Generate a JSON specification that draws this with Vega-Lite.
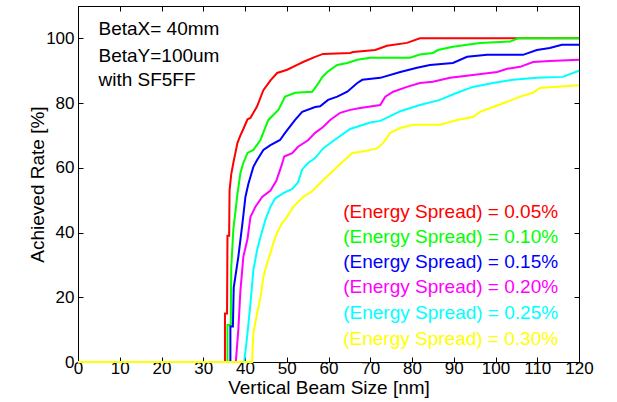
{
  "$schema": "https://vega.github.io/schema/vega-lite/v6.json",
  "width": 501,
  "height": 356,
  "autosize": {"type": "none"},
  "padding": {"left": 78, "top": 6, "right": 38, "bottom": 40},
  "config": {
    "view": {"stroke": "black", "strokeWidth": 1},
    "font": "Liberation Sans",
    "axis": {"domainColor": "black", "tickColor": "black", "labelColor": "black", "titleColor": "black", "grid": false, "labelFont": "Liberation Sans", "titleFont": "Liberation Sans", "labelFontWeight": "normal", "titleFontWeight": "normal", "labelOverlap": false, "labelFlush": false}
  },
  "datasets": {
    "curves": [
      {"s":"0.05%","x":0,"y":0},{"s":"0.05%","x":35.2,"y":0},{"s":"0.05%","x":35.2,"y":15},{"s":"0.05%","x":35.7,"y":15},{"s":"0.05%","x":35.8,"y":39},{"s":"0.05%","x":36.2,"y":39},{"s":"0.05%","x":36.3,"y":53},{"s":"0.05%","x":36.7,"y":58},{"s":"0.05%","x":37.2,"y":61.5},{"s":"0.05%","x":38.2,"y":67.7},{"s":"0.05%","x":38.9,"y":70},{"s":"0.05%","x":39.6,"y":72},{"s":"0.05%","x":40.6,"y":75},{"s":"0.05%","x":41.3,"y":75.4},{"s":"0.05%","x":42.9,"y":79},{"s":"0.05%","x":44.4,"y":84},{"s":"0.05%","x":46.1,"y":87},{"s":"0.05%","x":47.7,"y":89.3},{"s":"0.05%","x":50.1,"y":90.3},{"s":"0.05%","x":52.5,"y":91.8},{"s":"0.05%","x":53.9,"y":92.7},{"s":"0.05%","x":56.8,"y":94.3},{"s":"0.05%","x":58.7,"y":95.2},{"s":"0.05%","x":65.2,"y":95.5},{"s":"0.05%","x":65.9,"y":95.8},{"s":"0.05%","x":71.2,"y":96.4},{"s":"0.05%","x":74.0,"y":97.7},{"s":"0.05%","x":78.8,"y":98.6},{"s":"0.05%","x":81.9,"y":100},{"s":"0.05%","x":120,"y":100},
      {"s":"0.10%","x":0,"y":0},{"s":"0.10%","x":35.8,"y":0},{"s":"0.10%","x":35.8,"y":11.4},{"s":"0.10%","x":36.6,"y":11.4},{"s":"0.10%","x":36.7,"y":29},{"s":"0.10%","x":37.2,"y":40.8},{"s":"0.10%","x":38.2,"y":52},{"s":"0.10%","x":38.9,"y":58.4},{"s":"0.10%","x":39.6,"y":61.5},{"s":"0.10%","x":40.6,"y":64.6},{"s":"0.10%","x":42.0,"y":65.5},{"s":"0.10%","x":43.7,"y":68.6},{"s":"0.10%","x":44.9,"y":72.6},{"s":"0.10%","x":45.6,"y":74.8},{"s":"0.10%","x":48.0,"y":77.9},{"s":"0.10%","x":49.6,"y":82},{"s":"0.10%","x":52.0,"y":83.2},{"s":"0.10%","x":56.1,"y":83.5},{"s":"0.10%","x":57.3,"y":85.6},{"s":"0.10%","x":58.5,"y":88},{"s":"0.10%","x":59.7,"y":89.6},{"s":"0.10%","x":62.1,"y":91.8},{"s":"0.10%","x":64.5,"y":92.4},{"s":"0.10%","x":66.9,"y":93.4},{"s":"0.10%","x":70.0,"y":94},{"s":"0.10%","x":79.5,"y":94},{"s":"0.10%","x":81.9,"y":95},{"s":"0.10%","x":85.0,"y":95.5},{"s":"0.10%","x":86.2,"y":96.4},{"s":"0.10%","x":89.8,"y":97.4},{"s":"0.10%","x":93.2,"y":98},{"s":"0.10%","x":96.3,"y":98.6},{"s":"0.10%","x":103.5,"y":99},{"s":"0.10%","x":105.4,"y":100},{"s":"0.10%","x":120,"y":100},
      {"s":"0.15%","x":0,"y":0},{"s":"0.15%","x":36.5,"y":0},{"s":"0.15%","x":36.5,"y":11},{"s":"0.15%","x":37.1,"y":11},{"s":"0.15%","x":37.3,"y":23},{"s":"0.15%","x":38.4,"y":32.5},{"s":"0.15%","x":39.4,"y":43},{"s":"0.15%","x":40.1,"y":51},{"s":"0.15%","x":40.8,"y":55},{"s":"0.15%","x":42.0,"y":60.3},{"s":"0.15%","x":42.9,"y":62.4},{"s":"0.15%","x":44.4,"y":65.5},{"s":"0.15%","x":46.1,"y":67},{"s":"0.15%","x":48.4,"y":68.6},{"s":"0.15%","x":49.6,"y":70.8},{"s":"0.15%","x":52.0,"y":74.8},{"s":"0.15%","x":53.7,"y":77.3},{"s":"0.15%","x":56.8,"y":78.8},{"s":"0.15%","x":58.0,"y":79},{"s":"0.15%","x":59.9,"y":81},{"s":"0.15%","x":62.1,"y":82},{"s":"0.15%","x":64.5,"y":83.5},{"s":"0.15%","x":66.9,"y":86.2},{"s":"0.15%","x":68.1,"y":87.2},{"s":"0.15%","x":72.4,"y":87.8},{"s":"0.15%","x":77.2,"y":89.6},{"s":"0.15%","x":81.2,"y":90.9},{"s":"0.15%","x":84.3,"y":91.8},{"s":"0.15%","x":89.8,"y":92.4},{"s":"0.15%","x":93.2,"y":94.3},{"s":"0.15%","x":98.0,"y":94.9},{"s":"0.15%","x":106.6,"y":94.9},{"s":"0.15%","x":109.9,"y":96.4},{"s":"0.15%","x":113.0,"y":97},{"s":"0.15%","x":115.9,"y":98},{"s":"0.15%","x":120,"y":98},
      {"s":"0.20%","x":0,"y":0},{"s":"0.20%","x":37.8,"y":0},{"s":"0.20%","x":38.4,"y":10},{"s":"0.20%","x":38.9,"y":22},{"s":"0.20%","x":39.6,"y":32.5},{"s":"0.20%","x":40.6,"y":38},{"s":"0.20%","x":41.3,"y":44.8},{"s":"0.20%","x":42.5,"y":48},{"s":"0.20%","x":44.1,"y":51},{"s":"0.20%","x":46.1,"y":53},{"s":"0.20%","x":47.5,"y":56},{"s":"0.20%","x":48.7,"y":60.5},{"s":"0.20%","x":49.4,"y":63.5},{"s":"0.20%","x":51.3,"y":64.5},{"s":"0.20%","x":52.7,"y":66.5},{"s":"0.20%","x":55.1,"y":68.5},{"s":"0.20%","x":56.8,"y":70.8},{"s":"0.20%","x":58.7,"y":72.6},{"s":"0.20%","x":60.4,"y":74.8},{"s":"0.20%","x":62.8,"y":77},{"s":"0.20%","x":65.2,"y":77.9},{"s":"0.20%","x":67.6,"y":78.5},{"s":"0.20%","x":72.4,"y":79.4},{"s":"0.20%","x":73.6,"y":82},{"s":"0.20%","x":75.5,"y":83.5},{"s":"0.20%","x":78.8,"y":85},{"s":"0.20%","x":81.9,"y":86.2},{"s":"0.20%","x":85.0,"y":86.6},{"s":"0.20%","x":89.1,"y":87.8},{"s":"0.20%","x":94.6,"y":88.7},{"s":"0.20%","x":100.4,"y":89.6},{"s":"0.20%","x":102.8,"y":90.6},{"s":"0.20%","x":105.9,"y":91.2},{"s":"0.20%","x":109.0,"y":92.7},{"s":"0.20%","x":113.0,"y":93},{"s":"0.20%","x":120,"y":93.4},
      {"s":"0.25%","x":0,"y":0},{"s":"0.25%","x":39.8,"y":0},{"s":"0.25%","x":40.5,"y":7.7},{"s":"0.25%","x":41.3,"y":18},{"s":"0.25%","x":42.0,"y":28.4},{"s":"0.25%","x":42.9,"y":34.6},{"s":"0.25%","x":43.7,"y":38.6},{"s":"0.25%","x":44.9,"y":44},{"s":"0.25%","x":46.1,"y":48},{"s":"0.25%","x":47.2,"y":50.5},{"s":"0.25%","x":49.2,"y":52.2},{"s":"0.25%","x":51.3,"y":53.5},{"s":"0.25%","x":52.7,"y":55.5},{"s":"0.25%","x":53.7,"y":59.5},{"s":"0.25%","x":55.1,"y":61.5},{"s":"0.25%","x":56.8,"y":63},{"s":"0.25%","x":58.7,"y":66},{"s":"0.25%","x":62.1,"y":69.2},{"s":"0.25%","x":65.2,"y":72},{"s":"0.25%","x":70.0,"y":74},{"s":"0.25%","x":72.4,"y":74.5},{"s":"0.25%","x":74.8,"y":76},{"s":"0.25%","x":77.2,"y":77.5},{"s":"0.25%","x":81.9,"y":79.4},{"s":"0.25%","x":86.7,"y":81},{"s":"0.25%","x":90.8,"y":83.2},{"s":"0.25%","x":94.6,"y":85},{"s":"0.25%","x":99.4,"y":86.2},{"s":"0.25%","x":104.2,"y":87.2},{"s":"0.25%","x":109.9,"y":87.8},{"s":"0.25%","x":116.1,"y":88.1},{"s":"0.25%","x":120,"y":90},
      {"s":"0.30%","x":0,"y":0},{"s":"0.30%","x":41.7,"y":0},{"s":"0.30%","x":42.0,"y":9},{"s":"0.30%","x":42.9,"y":15},{"s":"0.30%","x":43.7,"y":20},{"s":"0.30%","x":44.4,"y":26.3},{"s":"0.30%","x":45.3,"y":30.6},{"s":"0.30%","x":46.1,"y":33.7},{"s":"0.30%","x":46.8,"y":36.8},{"s":"0.30%","x":47.7,"y":40},{"s":"0.30%","x":48.9,"y":43},{"s":"0.30%","x":49.6,"y":44},{"s":"0.30%","x":51.6,"y":48},{"s":"0.30%","x":53.9,"y":51},{"s":"0.30%","x":56.3,"y":53},{"s":"0.30%","x":58.0,"y":55.3},{"s":"0.30%","x":62.1,"y":60.3},{"s":"0.30%","x":65.7,"y":64.6},{"s":"0.30%","x":68.8,"y":65.2},{"s":"0.30%","x":71.6,"y":66},{"s":"0.30%","x":73.1,"y":67.7},{"s":"0.30%","x":74.8,"y":70.8},{"s":"0.30%","x":77.2,"y":72.3},{"s":"0.30%","x":80.3,"y":73.3},{"s":"0.30%","x":86.7,"y":73.3},{"s":"0.30%","x":90.8,"y":74.8},{"s":"0.30%","x":94.6,"y":75.7},{"s":"0.30%","x":96.3,"y":77.3},{"s":"0.30%","x":99.4,"y":78.8},{"s":"0.30%","x":102.8,"y":80.4},{"s":"0.30%","x":105.9,"y":82},{"s":"0.30%","x":109.0,"y":83.2},{"s":"0.30%","x":110.6,"y":84.7},{"s":"0.30%","x":113.8,"y":85},{"s":"0.30%","x":120,"y":85.5}
    ],
    "legend": [
      {"s":"0.05%","label":"(Energy Spread) = 0.05%","x":115,"y":46.5},
      {"s":"0.10%","label":"(Energy Spread) = 0.10%","x":115,"y":38.7},
      {"s":"0.15%","label":"(Energy Spread) = 0.15%","x":115,"y":31.0},
      {"s":"0.20%","label":"(Energy Spread) = 0.20%","x":115,"y":23.1},
      {"s":"0.25%","label":"(Energy Spread) = 0.25%","x":115,"y":15.1},
      {"s":"0.30%","label":"(Energy Spread) = 0.30%","x":115,"y":7.1}
    ],
    "notes": [
      {"t":"BetaX= 40mm","x":4.9,"y":102.9},
      {"t":"BetaY=100um","x":4.9,"y":94.6},
      {"t":"with SF5FF","x":4.9,"y":87.0}
    ]
  },
  "resolve": {"axis": {"x": "independent", "y": "independent"}},
  "layer": [
    {
      "data": {"name": "curves"},
      "mark": {"type": "line", "strokeWidth": 2},
      "encoding": {
        "x": {"field": "x", "type": "quantitative", "scale": {"domain": [0, 120], "nice": false},
              "axis": {"orient": "bottom", "values": [0,10,20,30,40,50,60,70,80,90,100,110,120], "tickSize": -5, "labelPadding": 3, "labelFontSize": 17, "title": "Vertical Beam Size [nm]", "titleFontSize": 19, "titlePadding": 2}},
        "y": {"field": "y", "type": "quantitative", "scale": {"domain": [0, 110], "nice": false},
              "axis": {"orient": "left", "values": [0,20,40,60,80,100], "tickSize": -5, "labelPadding": 9, "labelFontSize": 17, "title": "Achieved Rate [%]", "titleFontSize": 19, "titlePadding": -2}},
        "color": {"field": "s", "type": "nominal", "legend": null,
                  "scale": {"domain": ["0.05%","0.10%","0.15%","0.20%","0.25%","0.30%"], "range": ["#ff0000","#00ff00","#0000ff","#ff00ff","#00ffff","#ffff00"]}}
      }
    },
    {
      "data": {"name": "legend"},
      "mark": {"type": "text", "align": "right", "baseline": "middle", "fontSize": 19, "font": "Liberation Sans"},
      "encoding": {
        "x": {"field": "x", "type": "quantitative",
              "axis": {"orient": "top", "values": [0,10,20,30,40,50,60,70,80,90,100,110,120], "tickSize": -5, "labels": false, "title": null}},
        "y": {"field": "y", "type": "quantitative",
              "axis": {"orient": "right", "values": [0,20,40,60,80,100], "tickSize": -5, "labels": false, "title": null}},
        "text": {"field": "label"},
        "color": {"field": "s", "type": "nominal", "legend": null}
      }
    },
    {
      "data": {"name": "notes"},
      "mark": {"type": "text", "align": "left", "baseline": "middle", "fontSize": 19, "font": "Liberation Sans", "color": "black"},
      "encoding": {
        "x": {"field": "x", "type": "quantitative", "axis": null},
        "y": {"field": "y", "type": "quantitative", "axis": null},
        "text": {"field": "t"}
      }
    }
  ]
}
